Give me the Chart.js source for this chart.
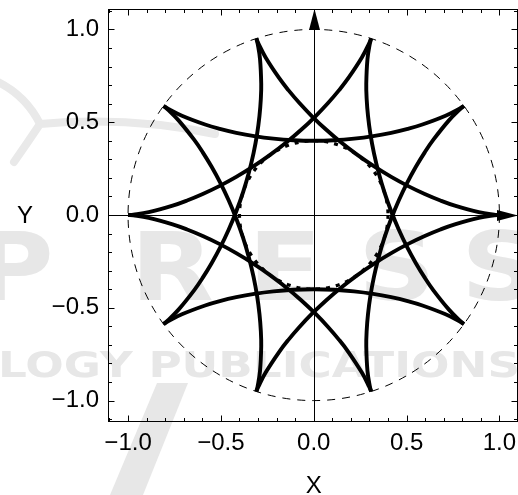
<!DOCTYPE html>
<html><head><meta charset="utf-8">
<script src="https://cdn.jsdelivr.net/npm/chart.js@4/dist/chart.umd.min.js"></script>
<style>html,body{margin:0;padding:0;background:#fff;}#wrap{width:518px;height:495px;}</style>
</head><body><div id="wrap"><canvas id="c" width="518" height="495"></canvas></div>
<script>
// One arc of the star curve between two cusps (polar: radius, angle in degrees from the start cusp)
const arcRadius = [1.0000, 0.9715, 0.8888, 0.7616, 0.6865, 0.6083, 0.5320, 0.4651, 0.4175, 0.4000,
                   0.4175, 0.4651, 0.5320, 0.6083, 0.6865, 0.7616, 0.8888, 0.9715, 1.0000];
const arcAngleDeg = [0, 0.12, 1.00, 3.80, 6.53, 10.72, 17.00, 26.18, 38.78, 54.00,
                     69.22, 81.82, 91.00, 97.28, 101.47, 104.20, 107.00, 107.88, 108];
// Start cusp of each of the 10 arcs (degrees)
const cuspAngleDeg = [0, 108, 216, 324, 72, 180, 288, 36, 144, 252];
// Dashed reference circles: outer, inner
const circleRadii = [1.0, 0.4];
// Ticks
const majorTickValues = [-1.0, -0.5, 0.0, 0.5, 1.0];
const tickLabels = ['\u22121.0', '\u22120.5', '0.0', '0.5', '1.0'];
const minorTickValues = [-1.1, -1.0, -0.9, -0.8, -0.7, -0.6, -0.5, -0.4, -0.3, -0.2, -0.1, 0.0,
                         0.1, 0.2, 0.3, 0.4, 0.5, 0.6, 0.7, 0.8, 0.9, 1.0, 1.1];
const axisTitles = {x: 'X', y: 'Y'};
const watermarkBig = ['P', 'R', 'E', 'S', 'S'];
const watermarkSmall = 'LOGY PUBLICATIONS';

const FONT = '"Liberation Sans", Arial, sans-serif';
const d2r = Math.PI / 180;

const datasets = cuspAngleDeg.map(c => ({
  data: arcRadius.map((r, i) => ({
    x: r * Math.cos((c + arcAngleDeg[i]) * d2r),
    y: r * Math.sin((c + arcAngleDeg[i]) * d2r)
  })),
  showLine: true,
  borderColor: '#000',
  borderWidth: 3.9,
  pointRadius: 0,
  tension: 0.4,
  fill: false
}));

function fmt(v) {
  const i = majorTickValues.findIndex(m => Math.abs(m - v) < 1e-6);
  return i >= 0 ? tickLabels[i] : '';
}
function setTicks(scale) {
  scale.ticks = minorTickValues.map(v => ({value: v}));
}
function noPad(s) {
  s.paddingLeft = 0; s.paddingRight = 0; s.paddingTop = 0; s.paddingBottom = 0;
}

function drawWatermark(ctx) {
  ctx.save();
  ctx.fillStyle = '#e7e7e7';
  ctx.strokeStyle = '#e9e9e9';
  ctx.lineWidth = 8; ctx.lineCap = 'round';
  ctx.beginPath();
  ctx.moveTo(-2, 82); ctx.quadraticCurveTo(26, 96, 40, 124);
  ctx.moveTo(40, 124); ctx.quadraticCurveTo(28, 142, 14, 162);
  ctx.moveTo(40, 124); ctx.quadraticCurveTo(130, 116, 215, 134);
  ctx.stroke();
  ctx.beginPath();
  ctx.moveTo(110, 495); ctx.lineTo(143, 495); ctx.lineTo(188, 383); ctx.lineTo(157, 383); ctx.closePath();
  ctx.fill();
  ctx.font = 'bold 94px "DejaVu Sans", ' + FONT;
  ctx.textAlign = 'center'; ctx.textBaseline = 'alphabetic';
  const centers = [14, 172, 285, 397, 500];
  watermarkBig.forEach((ch, i) => {
    ctx.save(); ctx.translate(centers[i], 300); ctx.scale(1.15, 1); ctx.fillText(ch, 0, 0); ctx.restore();
  });
  ctx.font = 'bold 35px "DejaVu Sans", ' + FONT;
  ctx.textAlign = 'left';
  const w = ctx.measureText(watermarkSmall).width;
  ctx.save(); ctx.translate(-2, 377); ctx.scale(522 / w, 1); ctx.fillText(watermarkSmall, 0, 0); ctx.restore();
  ctx.restore();
}

const decor = {
  id: 'decor',
  beforeDraw(chart) {
    const ctx = chart.ctx;
    ctx.save(); ctx.fillStyle = '#fff'; ctx.fillRect(0, 0, chart.width, chart.height); ctx.restore();
    drawWatermark(ctx);
  },
  beforeDatasetsDraw(chart) {
    const ctx = chart.ctx, xs = chart.scales.x, ys = chart.scales.y;
    const cx = xs.getPixelForValue(0), cy = ys.getPixelForValue(0);
    ctx.save();
    ctx.strokeStyle = '#000';
    circleRadii.forEach((r, i) => {
      const rx = xs.getPixelForValue(r) - cx, ry = cy - ys.getPixelForValue(r);
      ctx.lineWidth = i === 0 ? 1 : 3.2;
      ctx.setLineDash(i === 0 ? [8, 7] : [4, 6]);
      ctx.beginPath(); ctx.ellipse(cx, cy, rx, ry, 0, 0, 2 * Math.PI); ctx.stroke();
    });
    ctx.setLineDash([]);
    const a = chart.chartArea;
    ctx.lineWidth = 1;
    const X0 = Math.round(cx) + 0.5, Y0 = Math.round(cy) + 0.5;
    ctx.beginPath();
    ctx.moveTo(a.left, Y0); ctx.lineTo(a.right - 15, Y0);
    ctx.moveTo(X0, a.bottom); ctx.lineTo(X0, a.top + 15);
    ctx.stroke();
    ctx.fillStyle = '#000';
    ctx.beginPath();
    ctx.moveTo(a.right, Y0); ctx.lineTo(a.right - 21, Y0 - 5.5); ctx.lineTo(a.right - 21, Y0 + 5.5); ctx.closePath();
    ctx.fill();
    ctx.beginPath();
    ctx.moveTo(X0, a.top); ctx.lineTo(X0 - 5.5, a.top + 21); ctx.lineTo(X0 + 5.5, a.top + 21); ctx.closePath();
    ctx.fill();
    ctx.restore();
  },
  afterDraw(chart) {
    const ctx = chart.ctx, xs = chart.scales.x, ys = chart.scales.y, a = chart.chartArea;
    const L = Math.round(a.left) + 0.5, R = Math.round(a.right) - 0.5;
    const T = Math.round(a.top) + 0.5, B = Math.round(a.bottom) + 0.5;
    ctx.save();
    ctx.strokeStyle = '#000'; ctx.lineWidth = 1;
    ctx.strokeRect(L, T, R - L, B - T);
    ctx.beginPath();
    minorTickValues.forEach(v => {
      const len = fmt(v) ? 6 : 3.5;
      const px = Math.round(xs.getPixelForValue(v)) + 0.5;
      const py = Math.round(ys.getPixelForValue(v)) + 0.5;
      ctx.moveTo(L, py); ctx.lineTo(L + len, py);
      ctx.moveTo(R, py); ctx.lineTo(R - len, py);
      ctx.moveTo(px, B); ctx.lineTo(px, B - len);
      ctx.moveTo(px, T); ctx.lineTo(px, T + len);
    });
    ctx.stroke();
    ctx.fillStyle = '#000';
    ctx.font = '24px ' + FONT;
    ctx.textAlign = 'center'; ctx.textBaseline = 'middle';
    ctx.fillText(axisTitles.y, 25, ys.getPixelForValue(0) + 1);
    ctx.fillText(axisTitles.x, xs.getPixelForValue(0), 486);
    ctx.restore();
  }
};

new Chart(document.getElementById('c'), {
  type: 'scatter',
  data: {datasets},
  options: {
    responsive: false,
    animation: false,
    devicePixelRatio: 1,
    layout: {padding: {top: 9, right: 0, left: 0, bottom: 0}, autoPadding: false},
    plugins: {legend: {display: false}, tooltip: {enabled: false}},
    scales: {
      x: {
        type: 'linear', position: 'bottom', min: -1.108, max: 1.1,
        afterBuildTicks: setTicks,
        afterFit(s) { s.height = 74; noPad(s); },
        grid: {display: false, drawTicks: false},
        border: {display: false},
        ticks: {callback: fmt, autoSkip: false, maxRotation: 0, padding: 8, color: '#000',
                font: {family: FONT, size: 24}}
      },
      y: {
        type: 'linear', position: 'left', min: -1.11, max: 1.11,
        afterBuildTicks: setTicks,
        afterFit(s) { s.width = 108; noPad(s); },
        grid: {display: false, drawTicks: false},
        border: {display: false},
        ticks: {callback: fmt, autoSkip: false, padding: 9, color: '#000',
                font: {family: FONT, size: 24}}
      }
    }
  },
  plugins: [decor]
});
</script>
</body></html>
